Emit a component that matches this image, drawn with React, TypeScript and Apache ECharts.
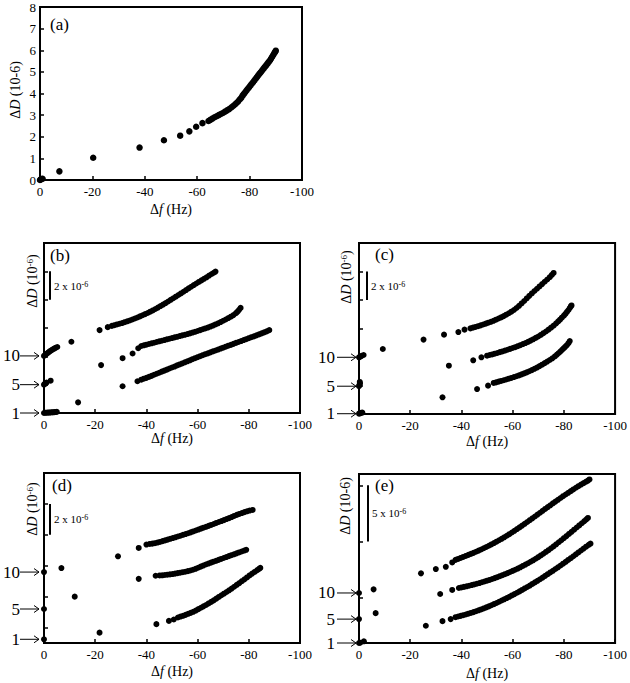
import React, { useEffect, useRef } from "react";
import * as echarts from "echarts";

const FONT = "Liberation Serif";

// ---------- data (Δf in Hz, ΔD in 1e-6 / offset units) ----------
const DATA_A: [number, number][] = [
  [0, 0], [-0.3, 0.03], [-0.6, 0.05], [-1, 0.06], [-7.4, 0.4], [-20.3, 1.03], [-38, 1.5], [-47.3, 1.84],
  [-53.5, 2.05], [-57, 2.25], [-59.6, 2.46], [-62, 2.63], [-64.3, 2.73], [-65, 2.78], [-65.8, 2.84],
  [-66.6, 2.9], [-67.4, 2.95], [-68.2, 3.0], [-69, 3.05], [-69.8, 3.1], [-70.6, 3.16], [-71.4, 3.22],
  [-72.2, 3.28], [-73, 3.35], [-73.7, 3.42], [-74.4, 3.49], [-75, 3.56], [-75.6, 3.63], [-76.2, 3.72],
  [-76.8, 3.8], [-77.3, 3.9], [-77.8, 3.98], [-78.3, 4.06], [-78.8, 4.14], [-79.3, 4.22], [-79.8, 4.29],
  [-80.3, 4.37], [-80.8, 4.45], [-81.3, 4.52], [-81.8, 4.6], [-82.3, 4.68], [-82.8, 4.76], [-83.3, 4.84],
  [-83.8, 4.92], [-84.3, 4.99], [-84.8, 5.07], [-85.3, 5.15], [-85.8, 5.23], [-86.3, 5.3], [-86.8, 5.38],
  [-87.3, 5.46], [-87.8, 5.54], [-88.2, 5.62], [-88.6, 5.7], [-89, 5.78], [-89.4, 5.86], [-89.7, 5.92],
  [-90, 5.98],
];

const DATA_B1: [number, number][] = [
  [0, 0], [-0.5, 0.02], [-1, 0.02], [-1.5, 0.03], [-2, 0.03], [-2.5, 0.04], [-3, 0.05], [-3.5, 0.05],
  [-4, 0.06], [-4.5, 0.07], [-5, 0.08], [-13.3, 0.75], [-30.7, 1.89], [-36.5, 2.24],
  [-38, 2.35], [-39, 2.42], [-40, 2.48], [-41, 2.55], [-42, 2.62], [-43, 2.7], [-44, 2.77], [-45, 2.84],
  [-46, 2.92], [-47, 2.99], [-48, 3.06], [-49, 3.14], [-50, 3.21], [-51, 3.28], [-52, 3.36], [-53, 3.43],
  [-54, 3.5], [-55, 3.58], [-56, 3.65], [-57, 3.72], [-58, 3.8], [-59, 3.87], [-60, 3.94], [-61, 4.01],
  [-62, 4.08], [-63, 4.15], [-64, 4.21], [-65, 4.28], [-66, 4.35], [-67, 4.41], [-68, 4.48], [-69, 4.55],
  [-70, 4.61], [-71, 4.68], [-72, 4.75], [-73, 4.81], [-74, 4.88], [-75, 4.95], [-76, 5.01], [-77, 5.08],
  [-78, 5.15], [-79, 5.21], [-80, 5.28], [-81, 5.35], [-82, 5.41], [-83, 5.48], [-84, 5.55], [-85, 5.62],
  [-86, 5.69], [-87, 5.76], [-88, 5.85],
];
const DATA_B2: [number, number][] = [
  [0, 2.0], [-0.3, 2.05], [-0.6, 2.1], [-1, 2.15], [-2.6, 2.28], [-22.3, 3.38], [-30.7, 3.87],
  [-34.6, 4.2], [-36.8, 4.57], [-38, 4.73], [-39, 4.78], [-40, 4.82], [-41, 4.87], [-42, 4.92],
  [-43, 4.96], [-44, 5.01], [-45, 5.06], [-46, 5.1], [-47, 5.15], [-48, 5.2], [-49, 5.24], [-50, 5.29],
  [-51, 5.34], [-52, 5.38], [-53, 5.43], [-54, 5.48], [-55, 5.52], [-56, 5.57], [-57, 5.62], [-58, 5.68],
  [-59, 5.73], [-60, 5.79], [-61, 5.85], [-62, 5.91], [-63, 5.97], [-64, 6.03], [-65, 6.1], [-66, 6.17],
  [-67, 6.25], [-68, 6.33], [-69, 6.42], [-70, 6.51], [-71, 6.6], [-72, 6.7], [-73, 6.8], [-74, 6.91],
  [-75, 7.05], [-75.6, 7.15], [-76.2, 7.28], [-76.8, 7.42],
];
const DATA_B3: [number, number][] = [
  [0, 4.03], [-0.5, 4.1], [-1, 4.18], [-1.5, 4.25], [-2, 4.32], [-2.5, 4.38], [-3, 4.44], [-3.5, 4.5],
  [-4, 4.55], [-4.5, 4.6], [-5.2, 4.66], [-10.7, 5.03], [-21.7, 5.85], [-24.9, 6.06],
  [-26.5, 6.15], [-27.5, 6.2], [-28.5, 6.25], [-29.5, 6.3], [-30.5, 6.35], [-31.5, 6.41], [-32.5, 6.47],
  [-33.5, 6.53], [-34.5, 6.6], [-35.5, 6.67], [-36.5, 6.74], [-37.5, 6.82], [-38.5, 6.9], [-39.5, 6.98],
  [-40.5, 7.06], [-41.5, 7.15], [-42.5, 7.24], [-43.5, 7.34], [-44.5, 7.44], [-45.5, 7.55], [-46.5, 7.65],
  [-47.5, 7.76], [-48.5, 7.87], [-49.5, 7.99], [-50.5, 8.1], [-51.5, 8.21], [-52.5, 8.33], [-53.5, 8.44],
  [-54.5, 8.56], [-55.5, 8.68], [-56.5, 8.8], [-57.5, 8.91], [-58.5, 9.03], [-59.5, 9.14], [-60.5, 9.25],
  [-61.5, 9.36], [-62.5, 9.47], [-63.5, 9.58], [-64.5, 9.7], [-65.5, 9.81], [-66.3, 9.9], [-67, 9.98],
];

const DATA_C1: [number, number][] = [
  [0, 0.02], [-0.4, 0.05], [-0.8, 0.08], [-1.3, 0.1], [-32.6, 1.17], [-46.1, 1.75], [-50.4, 1.99],
  [-52.6, 2.18], [-53.5, 2.22], [-54.5, 2.27], [-55.5, 2.32], [-56.5, 2.37], [-57.5, 2.42], [-58.5, 2.48],
  [-59.5, 2.53], [-60.5, 2.59], [-61.5, 2.65], [-62.5, 2.71], [-63.5, 2.78], [-64.5, 2.85], [-65.5, 2.92],
  [-66.5, 3.0], [-67.5, 3.08], [-68.5, 3.17], [-69.5, 3.26], [-70.5, 3.36], [-71.5, 3.46], [-72.5, 3.57],
  [-73.5, 3.68], [-74.5, 3.79], [-75.5, 3.91], [-76.5, 4.04], [-77.3, 4.17], [-78, 4.28], [-78.7, 4.4],
  [-79.4, 4.52], [-80, 4.62], [-80.6, 4.73], [-81.2, 4.84], [-81.8, 4.97], [-82.3, 5.12],
];
const DATA_C2: [number, number][] = [
  [0, 1.95], [-0.2, 2.05], [-0.4, 2.15], [-0.3, 2.25], [-35.1, 3.39], [-44.6, 3.77], [-47.8, 3.98],
  [-50, 4.09], [-51, 4.14], [-52, 4.18], [-53, 4.23], [-54, 4.28], [-55, 4.34], [-56, 4.39], [-57, 4.45],
  [-58, 4.51], [-59, 4.57], [-60, 4.63], [-61, 4.69], [-62, 4.76], [-63, 4.83], [-64, 4.91], [-65, 4.98],
  [-66, 5.06], [-67, 5.15], [-68, 5.24], [-69, 5.34], [-70, 5.44], [-71, 5.55], [-72, 5.67], [-73, 5.79],
  [-74, 5.92], [-75, 6.06], [-76, 6.2], [-77, 6.36], [-77.8, 6.5], [-78.5, 6.62], [-79.2, 6.76], [-80, 6.9],
  [-80.6, 7.02], [-81.2, 7.16], [-81.8, 7.3], [-82.3, 7.44], [-82.7, 7.55], [-83, 7.62],
];
const DATA_C3: [number, number][] = [
  [0, 3.98], [-0.5, 4.02], [-1, 4.08], [-1.8, 4.14], [-9.3, 4.56], [-25.2, 5.22], [-33.2, 5.57],
  [-38.8, 5.75], [-41.2, 5.92], [-43.5, 6.01], [-44.5, 6.06], [-45.5, 6.11], [-46.5, 6.16], [-47.5, 6.22],
  [-48.5, 6.28], [-49.5, 6.34], [-50.5, 6.41], [-51.5, 6.47], [-52.5, 6.54], [-53.5, 6.62], [-54.5, 6.7],
  [-55.5, 6.78], [-56.5, 6.87], [-57.5, 6.97], [-58.5, 7.07], [-59.5, 7.18], [-60.5, 7.3], [-61.5, 7.44],
  [-62.5, 7.59], [-63.5, 7.76], [-64.5, 7.93], [-65.5, 8.11], [-66.5, 8.29], [-67.5, 8.46], [-68.5, 8.63],
  [-69.5, 8.79], [-70.5, 8.95], [-71.5, 9.12], [-72.5, 9.28], [-73.5, 9.44], [-74.5, 9.6], [-75.3, 9.76],
  [-76, 9.9],
];

const DATA_D1: [number, number][] = [
  [0, 0.24], [-21.7, 0.67], [-43.9, 1.22], [-48.8, 1.43], [-50.7, 1.52], [-52.3, 1.65], [-53.3, 1.71],
  [-54.3, 1.76], [-55.3, 1.82], [-56.3, 1.89], [-57.3, 1.95], [-58.3, 2.02], [-59.3, 2.1], [-60.3, 2.19],
  [-61.3, 2.28], [-62.3, 2.37], [-63.3, 2.46], [-64.3, 2.56], [-65.3, 2.66], [-66.3, 2.76], [-67.3, 2.87],
  [-68.3, 2.98], [-69.3, 3.09], [-70.3, 3.19], [-71.3, 3.3], [-72.3, 3.41], [-73.3, 3.52], [-74.3, 3.64],
  [-75.3, 3.76], [-76.3, 3.88], [-77.3, 4.0], [-78.3, 4.12], [-79.3, 4.24], [-80.3, 4.37], [-81.3, 4.49],
  [-82.3, 4.6], [-83.3, 4.71], [-84, 4.79], [-84.5, 4.86],
];
const DATA_D2: [number, number][] = [
  [0, 2.2], [-12, 3.0], [-37, 4.15], [-43.6, 4.35], [-45.2, 4.37], [-46.2, 4.38], [-47.2, 4.4],
  [-48.2, 4.42], [-49.2, 4.44], [-50.2, 4.46], [-51.2, 4.49], [-52.2, 4.52], [-53.2, 4.55], [-54.2, 4.58],
  [-55.2, 4.61], [-56.2, 4.65], [-57.2, 4.69], [-58.2, 4.74], [-59.2, 4.8], [-60.2, 4.87], [-61.2, 4.94],
  [-62.2, 5.01], [-63.2, 5.08], [-64.2, 5.14], [-65.2, 5.2], [-66.2, 5.26], [-67.2, 5.32], [-68.2, 5.38],
  [-69.2, 5.44], [-70.2, 5.5], [-71.2, 5.56], [-72.2, 5.62], [-73.2, 5.68], [-74.2, 5.74], [-75.2, 5.8],
  [-76.2, 5.86], [-77.2, 5.92], [-78.2, 5.98], [-79, 6.03],
];
const DATA_D3: [number, number][] = [
  [0, 4.59], [-6.8, 4.85], [-28.9, 5.61], [-37, 6.15], [-40, 6.37], [-41.3, 6.41], [-42.3, 6.43],
  [-43.3, 6.46], [-44.3, 6.5], [-45.3, 6.54], [-46.3, 6.59], [-47.3, 6.64], [-48.3, 6.69], [-49.3, 6.74],
  [-50.3, 6.79], [-51.3, 6.84], [-52.3, 6.89], [-53.3, 6.94], [-54.3, 7.0], [-55.3, 7.05], [-56.3, 7.1],
  [-57.3, 7.16], [-58.3, 7.22], [-59.3, 7.28], [-60.3, 7.34], [-61.3, 7.4], [-62.3, 7.46], [-63.3, 7.52],
  [-64.3, 7.58], [-65.3, 7.64], [-66.3, 7.7], [-67.3, 7.77], [-68.3, 7.83], [-69.3, 7.89], [-70.3, 7.95],
  [-71.3, 8.02], [-72.3, 8.08], [-73.3, 8.15], [-74.3, 8.22], [-75.3, 8.29], [-76.3, 8.35], [-77.3, 8.41],
  [-78.3, 8.47], [-79.3, 8.52], [-80.3, 8.57], [-81.5, 8.61],
];

const DATA_E1: [number, number][] = [
  [0, 0], [-0.5, 0.03], [-1.9, 0.15], [-26.1, 1.53], [-32.6, 1.94], [-35.8, 2.12], [-37.7, 2.29],
  [-38.7, 2.35], [-39.7, 2.41], [-40.7, 2.47], [-41.7, 2.53], [-42.7, 2.6], [-43.7, 2.67], [-44.7, 2.74],
  [-45.7, 2.82], [-46.7, 2.9], [-47.7, 2.98], [-48.7, 3.07], [-49.7, 3.16], [-50.7, 3.25], [-51.7, 3.35],
  [-52.7, 3.45], [-53.7, 3.55], [-54.7, 3.66], [-55.7, 3.77], [-56.7, 3.88], [-57.7, 3.99], [-58.7, 4.1],
  [-59.7, 4.22], [-60.7, 4.34], [-61.7, 4.46], [-62.7, 4.58], [-63.7, 4.71], [-64.7, 4.84], [-65.7, 4.97],
  [-66.7, 5.1], [-67.7, 5.24], [-68.7, 5.38], [-69.7, 5.52], [-70.7, 5.66], [-71.7, 5.81], [-72.7, 5.96],
  [-73.7, 6.11], [-74.7, 6.26], [-75.7, 6.41], [-76.7, 6.57], [-77.7, 6.72], [-78.7, 6.88], [-79.7, 7.04],
  [-80.7, 7.2], [-81.7, 7.37], [-82.7, 7.53], [-83.7, 7.7], [-84.7, 7.87], [-85.7, 8.04], [-86.7, 8.21],
  [-87.7, 8.38], [-88.7, 8.55], [-89.7, 8.71], [-90.4, 8.82],
];
const DATA_E2: [number, number][] = [
  [0, 2.12], [-6.5, 2.65], [-31.7, 4.35], [-36.4, 4.71], [-39, 4.88], [-40, 4.93], [-41, 4.98], [-42, 5.03],
  [-43, 5.08], [-44, 5.14], [-45, 5.2], [-46, 5.26], [-47, 5.32], [-48, 5.39], [-49, 5.46], [-50, 5.53],
  [-51, 5.6], [-52, 5.68], [-53, 5.76], [-54, 5.84], [-55, 5.93], [-56, 6.02], [-57, 6.11], [-58, 6.2],
  [-59, 6.3], [-60, 6.4], [-61, 6.5], [-62, 6.61], [-63, 6.72], [-64, 6.84], [-65, 6.96], [-66, 7.08],
  [-67, 7.21], [-68, 7.34], [-69, 7.48], [-70, 7.62], [-71, 7.77], [-72, 7.92], [-73, 8.08], [-74, 8.24],
  [-75, 8.41], [-76, 8.58], [-77, 8.76], [-78, 8.94], [-79, 9.12], [-80, 9.3], [-81, 9.49], [-82, 9.68],
  [-83, 9.87], [-84, 10.06], [-85, 10.25], [-86, 10.44], [-87, 10.63], [-88, 10.82], [-88.8, 10.98],
  [-89.4, 11.1],
];
const DATA_E3: [number, number][] = [
  [0, 4.44], [-5.7, 4.76], [-24.2, 6.18], [-30, 6.56], [-33.9, 6.76], [-36.4, 7.15], [-37.7, 7.38],
  [-38.7, 7.46], [-39.7, 7.55], [-40.7, 7.64], [-41.7, 7.73], [-42.7, 7.82], [-43.7, 7.91], [-44.7, 8.0],
  [-45.7, 8.1], [-46.7, 8.2], [-47.7, 8.3], [-48.7, 8.41], [-49.7, 8.52], [-50.7, 8.63], [-51.7, 8.75],
  [-52.7, 8.87], [-53.7, 8.99], [-54.7, 9.12], [-55.7, 9.25], [-56.7, 9.38], [-57.7, 9.52], [-58.7, 9.66],
  [-59.7, 9.81], [-60.7, 9.96], [-61.7, 10.11], [-62.7, 10.26], [-63.7, 10.42], [-64.7, 10.58], [-65.7, 10.74],
  [-66.7, 10.9], [-67.7, 11.07], [-68.7, 11.23], [-69.7, 11.4], [-70.7, 11.56], [-71.7, 11.73], [-72.7, 11.9],
  [-73.7, 12.06], [-74.7, 12.22], [-75.7, 12.39], [-76.7, 12.55], [-77.7, 12.71], [-78.7, 12.87], [-79.7, 13.03],
  [-80.7, 13.18], [-81.7, 13.33], [-82.7, 13.48], [-83.7, 13.63], [-84.7, 13.78], [-85.7, 13.92], [-86.7, 14.06],
  [-87.7, 14.19], [-88.7, 14.32], [-89.4, 14.42], [-90, 14.52],
];

const CURVE_LABELS = ["1", "5", "10"];
const PANEL_TAGS = ["(a)", "(b)", "(c)", "(d)", "(e)"];
const X_TICK_STEP = 20;
const Y_TICKS_A_STEP = 1;
const Y_TICKS_B = [2, 4, 6, 8, 10];
const Y_TICKS_C = [2, 4, 6, 8, 10];
const Y_TICKS_D = [1, 3, 5, 7, 9];
const Y_TICKS_E = [4, 9, 14];
const SCALE_B = [8, 10];
const SCALE_C = [8, 10];
const SCALE_D = [7, 9];
const SCALE_E = [9, 14];
const SCALE_TEXT_B = "2 x 10";
const SCALE_TEXT_C = "2 x 10";
const SCALE_TEXT_D = "2 x 10";
const SCALE_TEXT_E = "5 x 10";

// ---------- layout ----------
type Panel = {
  grid: [number, number, number, number];
  yMax: number;
  series: [number, number][][];
  yTicks?: number[];
  scale?: number[];
  scaleText?: string;
  barOffset?: number;
  xNameGap: number;
  tag: [number, number];
  yName: [number, number];
  yNameSup: boolean;
};

const PANELS: Panel[] = [
  { grid: [40, 7, 262, 173], yMax: 8, series: [DATA_A], xNameGap: 22, tag: [50, 24], yName: [15, 90], yNameSup: false },
  { grid: [42, 243, 258, 170], yMax: 12, series: [DATA_B1, DATA_B2, DATA_B3], yTicks: Y_TICKS_B, scale: SCALE_B, scaleText: SCALE_TEXT_B, barOffset: 8, xNameGap: 18, tag: [50, 255], yName: [32, 281], yNameSup: true },
  { grid: [359, 243, 258, 171], yMax: 12, series: [DATA_C1, DATA_C2, DATA_C3], yTicks: Y_TICKS_C, scale: SCALE_C, scaleText: SCALE_TEXT_C, barOffset: 8, xNameGap: 20, tag: [375, 254], yName: [346, 277], yNameSup: true },
  { grid: [42, 473, 258, 170], yMax: 11, series: [DATA_D1, DATA_D2, DATA_D3], yTicks: Y_TICKS_D, scale: SCALE_D, scaleText: SCALE_TEXT_D, barOffset: 8, xNameGap: 21, tag: [52, 485], yName: [32, 509], yNameSup: true },
  { grid: [359, 474, 258, 169], yMax: 15, series: [DATA_E1, DATA_E2, DATA_E3], yTicks: Y_TICKS_E, scale: SCALE_E, scaleText: SCALE_TEXT_E, barOffset: 9, xNameGap: 23, tag: [375, 485], yName: [345, 506], yNameSup: false },
];

const axisNameRich = {
  n: { fontFamily: FONT, fontSize: 14, color: "#000" },
  i: { fontFamily: FONT, fontSize: 14, color: "#000", fontStyle: "italic" },
};

export default function App() {
  const ref = useRef<HTMLDivElement>(null);

  useEffect(() => {
    if (!ref.current) return;
    const chart = echarts.init(ref.current, null, { renderer: "svg" });

    const grids = PANELS.map((p) => ({
      left: p.grid[0], top: p.grid[1], width: p.grid[2], height: p.grid[3],
      show: true, borderColor: "#000", borderWidth: 2, backgroundColor: "transparent",
    }));

    const xAxes = PANELS.map((p, i) => ({
      gridIndex: i, type: "value", min: -100, max: 0, interval: X_TICK_STEP, inverse: true,
      splitLine: { show: false },
      axisLine: { lineStyle: { color: "#000", width: 2 } },
      axisTick: { inside: true, length: 4, lineStyle: { color: "#000", width: 1.5 } },
      axisLabel: { color: "#000", fontFamily: FONT, fontSize: 13, margin: 5 },
      name: "{n|\u0394}{i|f}{n| (Hz)}",
      nameLocation: "middle", nameGap: p.xNameGap,
      nameTextStyle: { rich: axisNameRich },
    }));

    const yAxes = PANELS.map((p, i) => {
      const base: any = {
        gridIndex: i, type: "value", min: 0, max: p.yMax,
        splitLine: { show: false },
        axisLine: { lineStyle: { color: "#000", width: 2 } },
      };
      if (!p.yTicks) {
        base.interval = Y_TICKS_A_STEP;
        base.axisTick = { inside: true, length: 4, lineStyle: { color: "#000", width: 1.5 } };
        base.axisLabel = { color: "#000", fontFamily: FONT, fontSize: 13, margin: 4 };
      } else {
        const starts = p.series.map((s) => s[0][1]);
        base.axisTick = { inside: true, length: 4, customValues: p.yTicks, lineStyle: { color: "#000", width: 1.5 } };
        base.axisLabel = {
          color: "#000", fontFamily: FONT, fontSize: 17, margin: 24,
          customValues: starts,
          formatter: (v: number) => {
            let best = 0;
            starts.forEach((s, k) => { if (Math.abs(s - v) < Math.abs(starts[best] - v)) best = k; });
            return CURVE_LABELS[best];
          },
        };
      }
      return base;
    });

    const series: any[] = [];
    PANELS.forEach((p, i) => {
      p.series.forEach((d) => {
        series.push({
          type: "scatter", xAxisIndex: i, yAxisIndex: i, data: d,
          symbolSize: i === 0 ? 6.5 : 6, itemStyle: { color: "#000", opacity: 1 }, silent: true,
        });
      });
    });

    chart.setOption({ animation: false, grid: grids, xAxis: xAxes, yAxis: yAxes, series });

    const graphics: any[] = [];
    PANELS.forEach((p, i) => {
      graphics.push({
        type: "text", x: p.tag[0], y: p.tag[1],
        style: { text: PANEL_TAGS[i], fill: "#000", fontFamily: FONT, fontSize: 17, align: "left", verticalAlign: "middle" },
      });
      const yText = p.yNameSup
        ? "{n|\u0394}{i|D}{n| (10}{s|-6}{n|)}"
        : "{n|\u0394}{i|D}{n| (10-6)}";
      graphics.push({
        type: "text", x: p.yName[0], y: p.yName[1], rotation: Math.PI / 2,
        style: {
          text: yText, align: "center", verticalAlign: "middle",
          rich: {
            n: { fill: "#000", fontFamily: FONT, fontSize: 14 },
            i: { fill: "#000", fontFamily: FONT, fontSize: 14, fontStyle: "italic" },
            s: { fill: "#000", fontFamily: FONT, fontSize: 9, verticalAlign: "top" },
          },
        },
      });
      if (p.yTicks) {
        // arrows pointing at each curve's starting value
        p.series.forEach((s) => {
          const py = (chart.convertToPixel({ gridIndex: i } as any, [0, s[0][1]]) as number[])[1];
          const gl = p.grid[0];
          graphics.push({
            type: "line", shape: { x1: gl - 22, y1: py, x2: gl - 3, y2: py },
            style: { stroke: "#000", lineWidth: 1 },
          });
          graphics.push({
            type: "polyline", shape: { points: [[gl - 8, py - 3.5], [gl - 3, py], [gl - 8, py + 3.5]] },
            style: { stroke: "#000", lineWidth: 1, fill: null },
          });
        });
      }
      if (p.scale) {
        const top = chart.convertToPixel({ gridIndex: i } as any, [0, p.scale[1]]) as number[];
        const bot = chart.convertToPixel({ gridIndex: i } as any, [0, p.scale[0]]) as number[];
        const bx = p.grid[0] + (p.barOffset || 8);
        graphics.push({
          type: "line", shape: { x1: bx, y1: top[1], x2: bx, y2: bot[1] },
          style: { stroke: "#000", lineWidth: 2 },
        });
        graphics.push({
          type: "text", x: bx + 4, y: (top[1] + bot[1]) / 2,
          style: {
            text: "{n|" + p.scaleText + "}{s|-6}", align: "left", verticalAlign: "middle",
            rich: {
              n: { fill: "#000", fontFamily: FONT, fontSize: 11 },
              s: { fill: "#000", fontFamily: FONT, fontSize: 8, verticalAlign: "top" },
            },
          },
        });
      }
    });
    chart.setOption({ graphic: graphics });

    return () => chart.dispose();
  }, []);

  return (
    <div
      ref={ref}
      style={{ position: "fixed", left: 0, top: 0, width: 630, height: 683, background: "#fff" }}
    />
  );
}
